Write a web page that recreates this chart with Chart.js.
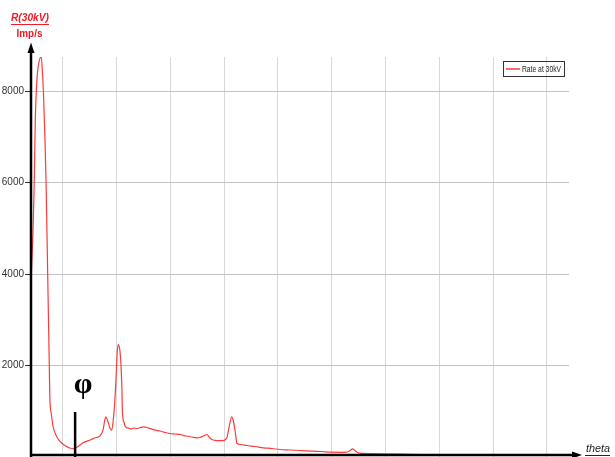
<!DOCTYPE html>
<html><head><meta charset="utf-8">
<script src="https://cdn.jsdelivr.net/npm/chart.js@4.4.1/dist/chart.umd.min.js"></script>
<style>html,body{margin:0;padding:0;background:#fff;}#wrap{width:615px;height:457px;position:relative;}</style>
</head><body><div id="wrap"><canvas id="c" width="615" height="457"></canvas></div>
<script>
const thetaValues = [2.42,2.45,2.47,2.49,2.52,2.56,2.60,2.62,2.64,2.67,2.69,2.72,2.75,2.76,2.79,2.82,2.87,2.92,2.99,3.07,3.13,3.20,3.27,3.38,3.51,3.62,3.69,3.75,3.78,3.80,3.84,3.88,3.91,3.94,3.97,3.99,4.01,4.03,4.06,4.08,4.10,4.11,4.14,4.16,4.21,4.27,4.32,4.38,4.44,4.50,4.57,4.62,4.68,4.81,4.90,4.99,5.09,5.18,5.29,5.40,5.49,5.55,5.61,5.68,5.72,5.77,5.87,5.98,6.05,6.09,6.14,6.17,6.20,6.24,6.31,6.42,6.57,6.73,6.89,7.04,7.22,7.41,7.65,7.82,7.97,8.15,8.28,8.34,8.39,8.43,8.49,8.65,8.90,9.27,9.83,10.38,11.13,11.69,12.41];
const rateValues = [4100,5040,6000,7380,8250,8650,8750,8470,8010,6940,6000,4010,2000,1320,930,667,490,383,295,230,197,180,219,310,372,426,455,600,800,880,776,623,586,820,1257,1694,2240,2460,2350,2060,1476,973,754,673,634,616,634,623,645,660,645,623,600,568,535,514,503,492,459,437,420,426,459,492,437,383,360,360,420,645,878,798,601,295,273,251,230,201,186,164,153,142,127,120,105,103,105,142,179,142,92,77,70,63,55,55,50,48,46];
const yTickValues = [2000,4000,6000,8000];
const xGridValues = [3,4,5,6,7,8,9,10,11,12];
const seriesLabel = 'Rate at 30kV';
const yTitleTop = 'R(30kV)';
const yTitleBottom = 'Imp/s';
const xTitle = 'theta';
const phiLabel = 'φ';
const phiTheta = 3.23;

const points = thetaValues.map((t, i) => ({x: t, y: rateValues[i]}));
const RED = '#ff3a3a';

const decor = {
  id: 'decor',
  afterDraw(chart) {
    const ctx = chart.ctx, a = chart.chartArea;
    const xs = chart.scales.x;
    ctx.save();
    // y axis with arrow
    ctx.strokeStyle = '#000'; ctx.fillStyle = '#000'; ctx.lineWidth = 2.5;
    ctx.beginPath(); ctx.moveTo(a.left, 457); ctx.lineTo(a.left, 50); ctx.stroke();
    ctx.beginPath(); ctx.moveTo(a.left, 42.5); ctx.lineTo(a.left - 3.5, 53); ctx.lineTo(a.left + 3.5, 53); ctx.closePath(); ctx.fill();
    // x axis with arrow
    ctx.beginPath(); ctx.moveTo(a.left - 1, 455); ctx.lineTo(575, 455); ctx.stroke();
    ctx.beginPath(); ctx.moveTo(582, 455); ctx.lineTo(572, 451.5); ctx.lineTo(572, 458.5); ctx.closePath(); ctx.fill();
    // y title
    ctx.fillStyle = '#ee1c25'; ctx.strokeStyle = '#ee1c25';
    ctx.textAlign = 'center'; ctx.textBaseline = 'alphabetic';
    ctx.font = 'italic bold 11px "Liberation Sans", Arial, sans-serif';
    ctx.fillText(yTitleTop, 30, 21, 38);
    let w = Math.min(38, ctx.measureText(yTitleTop).width);
    ctx.lineWidth = 1;
    ctx.beginPath(); ctx.moveTo(30 - w / 2, 24.5); ctx.lineTo(30 + w / 2, 24.5); ctx.stroke();
    ctx.font = 'bold 11px "Liberation Sans", Arial, sans-serif';
    ctx.fillText(yTitleBottom, 29.5, 37, 26);
    // x title
    ctx.fillStyle = '#222'; ctx.strokeStyle = '#222';
    ctx.textAlign = 'left';
    ctx.font = 'italic 11px "Liberation Sans", Arial, sans-serif';
    ctx.fillText(xTitle, 586, 452, 24);
    w = Math.min(24, ctx.measureText(xTitle).width);
    ctx.beginPath(); ctx.moveTo(585, 455.5); ctx.lineTo(586 + w, 455.5); ctx.stroke();
    // phi marker
    const px = xs.getPixelForValue(phiTheta);
    ctx.strokeStyle = '#000'; ctx.fillStyle = '#000'; ctx.lineWidth = 2.5;
    ctx.beginPath(); ctx.moveTo(px, 412); ctx.lineTo(px, 457); ctx.stroke();
    ctx.font = 'bold 30px "Liberation Serif", "DejaVu Serif", serif';
    ctx.textAlign = 'center'; ctx.textBaseline = 'middle';
    ctx.fillText(phiLabel, px + 8, 385);
    // legend
    ctx.lineWidth = 1; ctx.strokeStyle = '#333';
    ctx.strokeRect(503.5, 61.5, 61, 15);
    ctx.strokeStyle = RED; ctx.lineWidth = 1.5;
    ctx.beginPath(); ctx.moveTo(506, 69); ctx.lineTo(520, 69); ctx.stroke();
    ctx.fillStyle = '#222'; ctx.textAlign = 'left'; ctx.textBaseline = 'middle';
    ctx.font = '9px "Liberation Sans", Arial, sans-serif';
    ctx.fillText(chart.data.datasets[0].label, 522, 69.5, 39);
    ctx.restore();
  }
};

new Chart(document.getElementById('c'), {
  type: 'line',
  data: { datasets: [{ label: seriesLabel, data: points, borderColor: RED, borderWidth: 1.2, pointRadius: 0, cubicInterpolationMode: 'monotone', fill: false }] },
  options: {
    responsive: false, animation: false, devicePixelRatio: 1,
    layout: { padding: { top: 57, right: 46, bottom: 0, left: 0 } },
    plugins: { legend: { display: false }, tooltip: { enabled: false } },
    scales: {
      x: {
        type: 'linear', min: 2.41, max: 12.41,
        afterBuildTicks: s => { s.ticks = xGridValues.map(v => ({value: v})); },
        afterFit: s => { s.height = 0; s.paddingLeft = 0; s.paddingRight = 0; },
        ticks: { display: false },
        grid: { color: '#d9d9d9', drawTicks: false, lineWidth: 1 },
        border: { display: false }
      },
      y: {
        min: 0, max: 8750,
        afterBuildTicks: s => { s.ticks = yTickValues.map(v => ({value: v})); },
        afterFit: s => { s.width = 31; s.paddingTop = 0; s.paddingBottom = 0; },
        ticks: { color: '#333', padding: 1, callback: v => String(v), font: { family: '"Liberation Sans", Arial, sans-serif', size: 10 } },
        grid: { color: '#c4c4c4', tickColor: '#333', tickLength: 6, lineWidth: 1 },
        border: { display: false }
      }
    }
  },
  plugins: [decor]
});
</script></body></html>
